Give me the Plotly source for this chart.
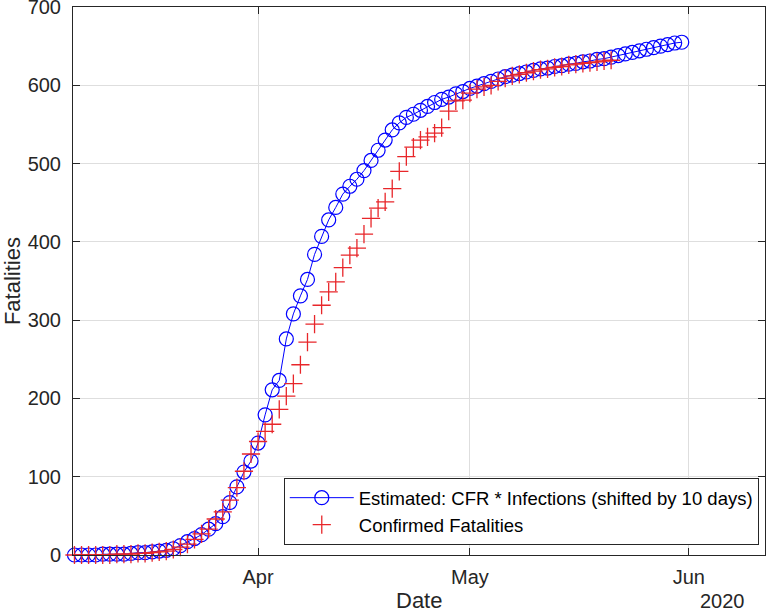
import pandas as pd
import plotly.graph_objects as go

start_date = "2020-03-06"

estimated = [0, 0, 0, 0, 1, 1, 1, 1, 2, 3, 3, 4, 5, 6, 8, 12, 17, 21, 26, 33, 40, 49,
             67, 87, 106, 120, 143, 179, 211, 223, 276, 308, 331, 352, 384, 407, 428,
             444, 461, 471, 480, 491, 504, 517, 530, 543, 552, 559, 563, 568, 573, 578,
             582, 585, 589, 592, 596, 599, 602, 605, 608, 611, 613, 615, 617, 619, 621,
             622, 624, 625, 627, 628, 630, 631, 633, 634, 636, 638, 640, 642, 644, 646,
             648, 650, 652, 654, 655]

confirmed = [0, 0, 0, 0, 0, 0, 1, 1, 1, 2, 2, 3, 4, 5, 7, 10, 14, 20, 27, 33, 46, 55,
             70, 86, 107, 129, 145, 158, 167, 186, 203, 219, 243, 272, 295, 319, 336,
             349, 367, 383, 392, 410, 430, 443, 451, 468, 490, 509, 521, 530, 534, 539,
             546, 567, 580, 581, 590, 595, 598, 600, 605, 609, 612, 614, 616, 618, 620,
             621, 623, 624, 626, 627, 628, 629, 630, 631, 632]

x_est = pd.date_range(start_date, periods=len(estimated), freq="D")
x_conf = pd.date_range(start_date, periods=len(confirmed), freq="D")

y_ticks = [0, 100, 200, 300, 400, 500, 600, 700]
x_ticks = ["2020-04-01", "2020-05-01", "2020-06-01"]
x_tick_labels = ["Apr", "May", "Jun"]

FONT = "Liberation Sans, Arial, Helvetica, sans-serif"
AX = "#262626"
TICK = 20
LABEL = 22

fig = go.Figure()
fig.add_trace(go.Scatter(
    x=x_est, y=estimated, mode="lines+markers",
    name="Estimated: CFR * Infections (shifted by 10 days)",
    line=dict(color="#0000ff", width=1),
    marker=dict(symbol="circle-open", size=14, color="#0000ff", line=dict(width=1.2, color="#0000ff")),
    cliponaxis=False,
))
fig.add_trace(go.Scatter(
    x=x_conf, y=confirmed, mode="markers",
    name="Confirmed Fatalities",
    marker=dict(symbol="cross-thin-open", size=13, color="#e8262a", line=dict(width=1.3, color="#e8262a")),
    cliponaxis=False,
))

fig.update_layout(
    width=767, height=614,
    margin=dict(l=73, r=2, t=7, b=59, autoexpand=False),
    paper_bgcolor="white", plot_bgcolor="white",
    font=dict(family=FONT, size=TICK, color=AX),
    showlegend=True,
    legend=dict(
        x=0.991, y=0.018, xanchor="right", yanchor="bottom",
        bgcolor="white", bordercolor=AX, borderwidth=1,
        font=dict(family=FONT, size=18.5, color="black"),
        itemwidth=64, tracegroupgap=0,
    ),
    xaxis=dict(
        type="date", automargin=False,
        range=["2020-03-05 19:00", "2020-06-11 19:00"],
        tickvals=x_ticks, ticktext=x_tick_labels,
        ticks="inside", ticklen=7, tickcolor=AX, tickwidth=1,
        showline=True, linecolor=AX, linewidth=1, mirror="ticks",
        showgrid=True, gridcolor="#dedede", gridwidth=1,
        zeroline=False, ticklabeloverflow="allow", ticklabelstandoff=4,
        tickfont=dict(size=TICK, color=AX),
    ),
    yaxis=dict(
        range=[0, 700], automargin=False,
        tickvals=y_ticks,
        ticks="inside", ticklen=7, tickcolor=AX, tickwidth=1,
        showline=True, linecolor=AX, linewidth=1, mirror="ticks",
        showgrid=True, gridcolor="#dedede", gridwidth=1,
        zeroline=False, ticklabeloverflow="allow", ticklabelstandoff=7,
        tickfont=dict(size=TICK, color=AX),
    ),
    annotations=[
        dict(text="Date", xref="paper", yref="paper", x=0.5, y=0, xanchor="center",
             yanchor="middle", yshift=-45, showarrow=False, font=dict(size=LABEL, color=AX)),
        dict(text="Fatalities", xref="paper", yref="paper", x=-0.088, y=0.5, xanchor="center",
             yanchor="middle", textangle=-90, showarrow=False, font=dict(size=LABEL, color=AX)),
        dict(text="2020", xref="paper", yref="paper", x=0.974, y=0, xanchor="right",
             yanchor="middle", yshift=-46, showarrow=False, font=dict(size=TICK, color=AX)),
    ],
)

fig.write_html(
    "out.html",
    config={"displayModeBar": False},
    post_script="document.body.style.margin='0';document.body.style.overflow='hidden';",
)
